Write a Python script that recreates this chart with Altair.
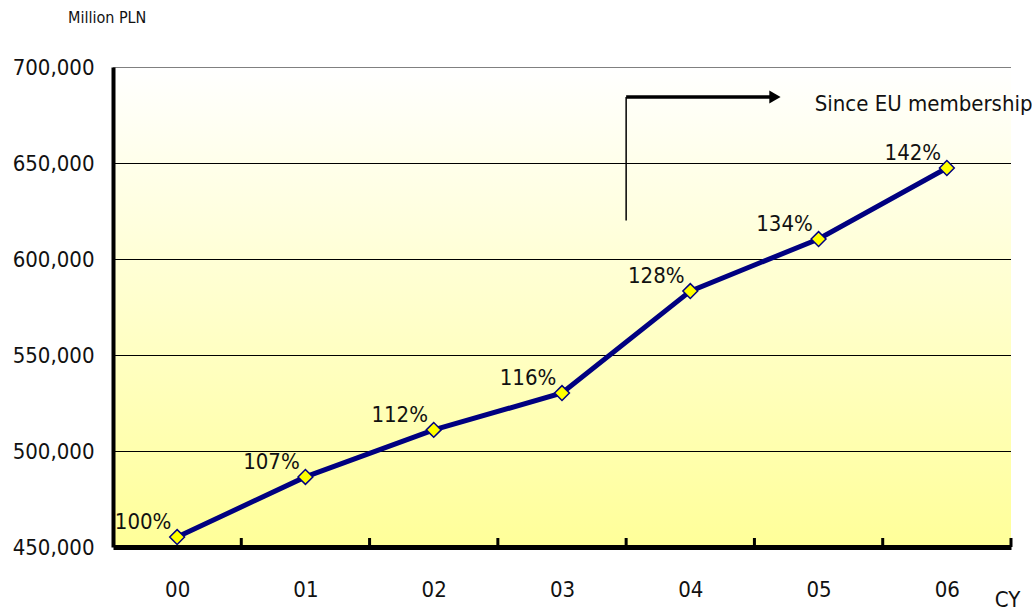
import altair as alt
import pandas as pd

years = ["00", "01", "02", "03", "04", "05", "06"]
gdp = [455200, 486500, 511000, 530200, 583300, 610400, 647400]
pct = ["100%", "107%", "112%", "116%", "128%", "134%", "142%"]
y_ticks = [450000, 500000, 550000, 600000, 650000, 700000]
unit_text = "Million PLN"
x_title = "CY"
note_text = "Since EU membership"

# annotation (data coordinates)
eu_start = years.index("04") - 0.5
arrow_y = 684400
arrow_bottom = 620000
arrow_end = 4.66
note_x = 4.97

FONT = "DejaVu Sans Condensed, Liberation Sans, sans-serif"
W, H = 898, 480

df = pd.DataFrame({"i": list(range(len(years))), "year": years, "gdp": gdp, "pct": pct})
bounds = pd.DataFrame({"b": [k + 0.5 for k in range(len(years))]})
grid = pd.DataFrame({"v": y_ticks[1:]})

xs = alt.Scale(domain=[-0.5, len(years) - 0.5], nice=False, zero=False)
ys = alt.Scale(domain=[y_ticks[0], y_ticks[-1]], nice=False, zero=False)

label_expr = "[" + ",".join("'%s'" % y for y in years) + "][datum.value]"

x_axis = alt.Axis(values=list(range(len(years))), labelExpr=label_expr,
                  title=x_title, titleX=894, titleY=52, titleAlign="center",
                  titleBaseline="middle", titleFontSize=22, titleFont=FONT,
                  titleFontWeight="normal", titleColor="#111111",
                  labelFont=FONT, labelFontSize=22, labelColor="#111111",
                  labelPadding=32, ticks=False, grid=False,
                  domainColor="black", domainWidth=5, zindex=2)
y_axis = alt.Axis(values=y_ticks, format=",.0f", title=None, grid=False,
                  ticks=False, labelFont=FONT, labelFontSize=22,
                  labelColor="#111111", labelPadding=19,
                  domainColor="black", domainWidth=4, zindex=2)


def X(f):
    return alt.X(f, scale=xs, axis=x_axis)


def Y(f):
    return alt.Y(f, scale=ys, axis=y_axis)


bg = alt.Chart(df).mark_rect(
    color=alt.Gradient(
        gradient="linear",
        stops=[alt.GradientStop(color="#FFFFFF", offset=0),
               alt.GradientStop(color="#FFFF99", offset=1)],
        x1=0, x2=0, y1=0, y2=1,
    )
).encode(x=alt.value(0), x2=alt.value(W), y=alt.value(0), y2=alt.value(H))

gridlines = alt.Chart(grid).mark_rule(strokeWidth=1, yOffset=0.5).encode(
    y=Y("v:Q"),
    color=alt.condition(alt.datum.v == y_ticks[-1], alt.value("#808080"), alt.value("#000000")),
)

ticks = alt.Chart(bounds).mark_rule(strokeWidth=3, color="black").encode(
    x=X("b:Q"),
    y=alt.value(H),
    y2=alt.value(H - 9),
)

base = alt.Chart(df)
line = base.mark_line(color="#000080", strokeWidth=5).encode(x=X("i:Q"), y=Y("gdp:Q"))
points = base.mark_point(shape="diamond", filled=True, fill="#FFFF00", stroke="#000080",
                         strokeWidth=1.5, size=220, opacity=1).encode(x=X("i:Q"), y=Y("gdp:Q"))
labels = base.mark_text(dx=-34, dy=-15, fontSize=22, font=FONT, color="#111111").encode(
    x=X("i:Q"), y=Y("gdp:Q"), text="pct:N",
)

ann = pd.DataFrame({"x0": [eu_start], "x1": [arrow_end], "xn": [note_x],
                    "ya": [arrow_y], "yb": [arrow_bottom], "t": [note_text]})
vrule = alt.Chart(ann).mark_rule(color="black", strokeWidth=1.5).encode(
    x=X("x0:Q"), y=Y("ya:Q"), y2="yb:Q",
)
hrule = alt.Chart(ann).mark_rule(color="black", strokeWidth=3.5).encode(
    x=X("x0:Q"), x2="x1:Q", y=Y("ya:Q"),
)
head = alt.Chart(ann).mark_point(shape="triangle-right", filled=True, color="black",
                                 size=170, opacity=1).encode(x=X("x1:Q"), y=Y("ya:Q"))
note = alt.Chart(ann).mark_text(align="left", baseline="middle", dy=7, fontSize=22,
                                font=FONT, color="#111111").encode(
    x=X("xn:Q"), y=Y("ya:Q"), text="t:N",
)

chart = alt.layer(bg, gridlines, ticks, line, points, labels, vrule, hrule, head, note).properties(
    width=W, height=H,
    autosize=alt.AutoSizeParams(type="none"),
    padding={"left": 113, "top": 67, "right": 21, "bottom": 65},
    title=alt.TitleParams(unit_text, anchor="start", frame="group", dx=-45, offset=30,
                          font=FONT, fontSize=16, fontWeight="normal", color="#111111"),
).configure_view(stroke=None)

chart.save("out.html", embed_options={"renderer": "svg", "actions": False})
